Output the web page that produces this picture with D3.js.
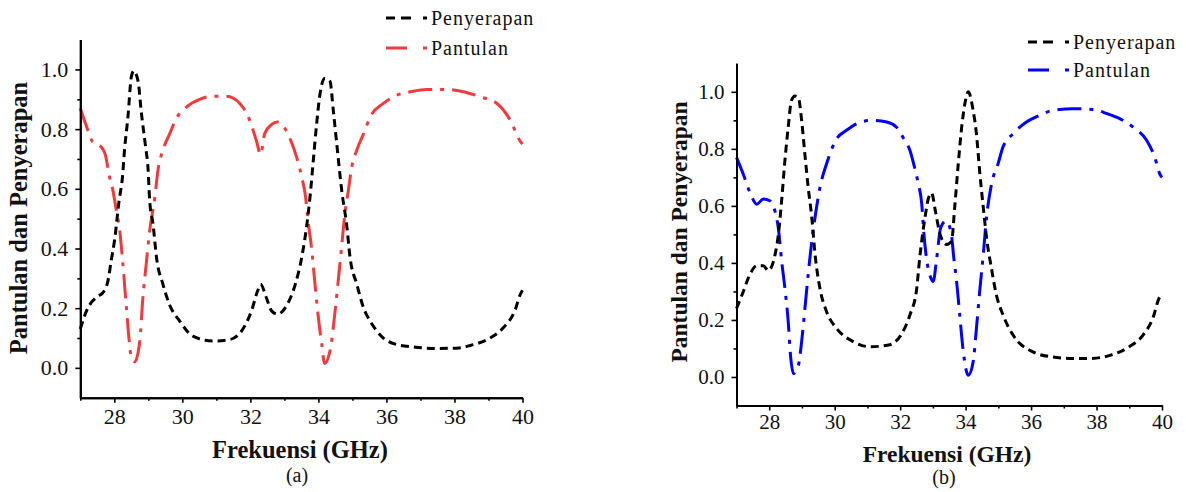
<!DOCTYPE html>
<html>
<head>
<meta charset="utf-8">
<script src="https://d3js.org/d3.v7.min.js"></script>
<style>
  body { margin: 0; background: #fff; }
  text { font-family: 'Liberation Serif', serif; fill: #111; }
</style>
</head>
<body>
<script>
// panel (a) - absorption (Penyerapan)
var freqAbsA = [27.0, 27.18, 27.52, 27.65, 27.81, 27.91, 28.01, 28.14, 28.24, 28.3, 28.4, 28.5, 28.57, 28.7, 28.79, 28.92, 28.99, 29.04, 29.14, 29.24, 29.43, 29.63, 29.92, 30.31, 30.9, 31.4, 31.78, 32.03, 32.22, 32.3, 32.47, 32.63, 32.8, 33.07, 33.32, 33.51, 33.66, 33.76, 33.85, 33.95, 34.05, 34.18, 34.34, 34.44, 34.54, 34.69, 34.83, 34.93, 35.13, 35.33, 35.52, 35.91, 36.31, 36.8, 37.48, 38.07, 38.46, 39.05, 39.44, 39.79, 39.93, 40.0]
var absA = [0.13, 0.19, 0.24, 0.25, 0.29, 0.36, 0.43, 0.56, 0.64, 0.73, 0.84, 0.975, 0.995, 0.96, 0.86, 0.74, 0.67, 0.56, 0.48, 0.37, 0.28, 0.21, 0.157, 0.106, 0.09, 0.095, 0.13, 0.19, 0.26, 0.28, 0.235, 0.19, 0.18, 0.21, 0.28, 0.37, 0.48, 0.58, 0.695, 0.82, 0.92, 0.97, 0.96, 0.86, 0.75, 0.59, 0.48, 0.37, 0.28, 0.2, 0.157, 0.1, 0.078, 0.07, 0.065, 0.066, 0.075, 0.1, 0.135, 0.196, 0.245, 0.26]

// panel (a) - reflection (Pantulan)
var freqRefA = [27.0, 27.18, 27.37, 27.52, 27.72, 27.86, 27.96, 28.06, 28.16, 28.25, 28.35, 28.43, 28.5, 28.6, 28.75, 28.84, 28.94, 29.04, 29.19, 29.28, 29.43, 29.63, 29.82, 30.12, 30.51, 30.9, 31.3, 31.69, 31.98, 32.18, 32.3, 32.42, 32.62, 32.8, 33.16, 33.36, 33.51, 33.61, 33.71, 33.81, 33.9, 34.0, 34.1, 34.18, 34.34, 34.49, 34.59, 34.69, 34.79, 34.88, 34.98, 35.13, 35.33, 35.52, 35.91, 36.31, 36.7, 37.19, 37.78, 38.27, 38.76, 39.25, 39.64, 39.93, 40.0]
var refA = [0.87, 0.81, 0.757, 0.75, 0.72, 0.64, 0.594, 0.527, 0.46, 0.35, 0.21, 0.1, 0.035, 0.02, 0.09, 0.235, 0.35, 0.46, 0.57, 0.66, 0.73, 0.785, 0.835, 0.874, 0.9, 0.91, 0.91, 0.886, 0.83, 0.76, 0.715, 0.785, 0.815, 0.824, 0.77, 0.706, 0.64, 0.583, 0.48, 0.39, 0.28, 0.168, 0.078, 0.015, 0.056, 0.19, 0.3, 0.415, 0.527, 0.594, 0.673, 0.73, 0.785, 0.84, 0.886, 0.914, 0.925, 0.933, 0.933, 0.925, 0.908, 0.886, 0.83, 0.76, 0.75]

// panel (b) - absorption (Penyerapan)
var freqAbsB = [27.0, 27.21, 27.41, 27.62, 27.82, 27.97, 28.18, 28.28, 28.38, 28.48, 28.58, 28.68, 28.79, 28.89, 28.99, 29.09, 29.19, 29.3, 29.4, 29.55, 29.75, 30.06, 30.57, 31.08, 31.64, 32.04, 32.3, 32.5, 32.6, 32.76, 32.86, 32.96, 33.08, 33.22, 33.42, 33.57, 33.67, 33.77, 33.88, 33.98, 34.08, 34.23, 34.33, 34.43, 34.54, 34.64, 34.79, 34.94, 35.14, 35.45, 36.06, 36.67, 37.28, 37.79, 38.41, 39.0, 39.42, 39.72, 39.91, 40.0]
var absB = [0.24, 0.3, 0.36, 0.39, 0.39, 0.373, 0.43, 0.5, 0.62, 0.76, 0.876, 0.97, 0.985, 0.98, 0.9, 0.78, 0.665, 0.56, 0.43, 0.31, 0.23, 0.17, 0.124, 0.106, 0.112, 0.15, 0.218, 0.305, 0.42, 0.56, 0.625, 0.645, 0.58, 0.5, 0.465, 0.476, 0.6, 0.74, 0.876, 0.96, 1.0, 0.935, 0.853, 0.72, 0.594, 0.488, 0.38, 0.288, 0.218, 0.147, 0.088, 0.07, 0.065, 0.065, 0.076, 0.106, 0.147, 0.206, 0.276, 0.29]

// panel (b) - reflection (Pantulan)
var freqRefB = [27.0, 27.21, 27.41, 27.62, 27.82, 28.02, 28.18, 28.28, 28.38, 28.48, 28.58, 28.65, 28.74, 28.89, 28.99, 29.09, 29.19, 29.3, 29.4, 29.55, 29.75, 30.06, 30.36, 30.67, 31.13, 31.59, 31.89, 32.09, 32.3, 32.45, 32.55, 32.66, 32.72, 32.8, 32.93, 33.01, 33.11, 33.24, 33.4, 33.55, 33.65, 33.72, 33.82, 33.93, 34.08, 34.23, 34.33, 34.43, 34.54, 34.64, 34.79, 34.99, 35.14, 35.45, 35.86, 36.27, 36.67, 37.28, 37.9, 38.31, 38.71, 39.12, 39.53, 39.78, 39.94, 40.0]
var refB = [0.77, 0.71, 0.647, 0.606, 0.624, 0.618, 0.58, 0.52, 0.406, 0.31, 0.194, 0.076, 0.012, 0.04, 0.124, 0.24, 0.36, 0.476, 0.56, 0.665, 0.747, 0.835, 0.865, 0.888, 0.9, 0.894, 0.876, 0.84, 0.794, 0.73, 0.68, 0.606, 0.51, 0.42, 0.35, 0.335, 0.41, 0.524, 0.547, 0.51, 0.406, 0.34, 0.218, 0.088, 0.006, 0.053, 0.17, 0.3, 0.43, 0.56, 0.676, 0.747, 0.806, 0.853, 0.894, 0.918, 0.935, 0.941, 0.938, 0.924, 0.906, 0.876, 0.83, 0.77, 0.71, 0.7]

var xMajor = [28, 30, 32, 34, 36, 38, 40]
var xMinor = [27, 29, 31, 33, 35, 37, 39]
var yMajor = [0.0, 0.2, 0.4, 0.6, 0.8, 1.0]
var yMinor = [0.1, 0.3, 0.5, 0.7, 0.9]
var seriesNames = ['Penyerapan', 'Pantulan']

var W = 1186, H = 492
var svg = d3.select('body').append('svg').attr('width', W).attr('height', H)

var panels = [
  { left: 80.3, right: 522.5, top: 39.6, bottom: 397.7, absX: freqAbsA, absY: absA, refX: freqRefA, refY: refA,
    refColor: '#ef3b3b', tickPad: 6, ylabX: 18, ylabY: 218, xlabX: 300, xlabY: 449, capY: 476, cap: '(a)',
    legX: 386, legY: [18, 48], fs: 22, tfs: 24.5 },
  { left: 736.5, right: 1162, top: 63.3, bottom: 405.5, absX: freqAbsB, absY: absB, refX: freqRefB, refY: refB,
    refColor: '#0000ff', tickPad: 4, ylabX: 679, ylabY: 232, xlabX: 947, xlabY: 454, capY: 478, cap: '(b)',
    legX: 1028, legY: [42, 70], fs: 21, tfs: 23.5 }
]

panels.forEach(function(p) {
  var x = d3.scaleLinear().domain([27, 40]).range([p.left, p.right])
  var y = d3.scaleLinear().domain([-0.1, 1.1]).range([p.bottom, p.top])
  var g = svg.append('g')

  // curves
  var line = d3.line()
    .x(function(d) { return x(d[0]) })
    .y(function(d) { return y(d[1]) })
    .curve(d3.curveMonotoneX)

  var refPts = p.refX.map(function(f, i) { return [f, p.refY[i]] })
  var absPts = p.absX.map(function(f, i) { return [f, p.absY[i]] })

  g.append('path').attr('d', line(refPts))
    .attr('fill', 'none').attr('stroke', p.refColor).attr('stroke-width', 3)
    .attr('stroke-dasharray', '24,8,4,8')
  g.append('path').attr('d', line(absPts))
    .attr('fill', 'none').attr('stroke', '#000').attr('stroke-width', 3)
    .attr('stroke-dasharray', '8,5')

  // axes
  g.append('g').attr('transform', 'translate(0,' + p.bottom + ')')
    .call(d3.axisBottom(x).tickValues(xMajor).tickSize(5).tickSizeOuter(0).tickPadding(p.tickPad).tickFormat(d3.format('d')))
  g.append('g').attr('transform', 'translate(0,' + p.bottom + ')')
    .call(d3.axisBottom(x).tickValues(xMinor).tickSize(3).tickSizeOuter(0).tickFormat(''))
  g.append('g').attr('transform', 'translate(' + p.left + ',0)')
    .call(d3.axisLeft(y).tickValues(yMajor).tickSize(5).tickSizeOuter(0).tickPadding(7).tickFormat(d3.format('.1f')))
  g.append('g').attr('transform', 'translate(' + p.left + ',0)')
    .call(d3.axisLeft(y).tickValues(yMinor).tickSize(3).tickSizeOuter(0).tickFormat(''))

  g.selectAll('.domain').attr('stroke', '#000').attr('stroke-width', 2)
  g.selectAll('.tick line').attr('stroke', '#000').attr('stroke-width', 1.6)
  g.selectAll('.tick text').attr('font-family', "'Liberation Serif', serif").attr('font-size', p.fs).attr('fill', '#111')

  // titles
  g.append('text').text('Frekuensi (GHz)')
    .attr('x', p.xlabX).attr('y', p.xlabY).attr('dy', '0.35em')
    .attr('text-anchor', 'middle').attr('font-weight', 'bold').attr('font-size', p.tfs)
  g.append('text').text('Pantulan dan Penyerapan')
    .attr('transform', 'translate(' + p.ylabX + ',' + p.ylabY + ') rotate(-90)')
    .attr('dy', '0.35em')
    .attr('text-anchor', 'middle').attr('font-weight', 'bold').attr('font-size', p.tfs)
  g.append('text').text(p.cap)
    .attr('x', p.xlabX - 3).attr('y', p.capY).attr('dy', '0.32em')
    .attr('text-anchor', 'middle').attr('font-size', 20)

  // legend
  var legStyles = [
    { color: '#000', dash: '9,6,10,12,4' },
    { color: p.refColor, dash: '21,16,4' }
  ]
  seriesNames.forEach(function(name, i) {
    g.append('line')
      .attr('x1', p.legX).attr('x2', p.legX + 41)
      .attr('y1', p.legY[i]).attr('y2', p.legY[i])
      .attr('stroke', legStyles[i].color).attr('stroke-width', 3)
      .attr('stroke-dasharray', legStyles[i].dash)
    g.append('text').text(name)
      .attr('x', p.legX + 45).attr('y', p.legY[i]).attr('dy', '0.33em')
      .attr('font-size', 20).attr('letter-spacing', 1)
  })
})
</script>
</body>
</html>
